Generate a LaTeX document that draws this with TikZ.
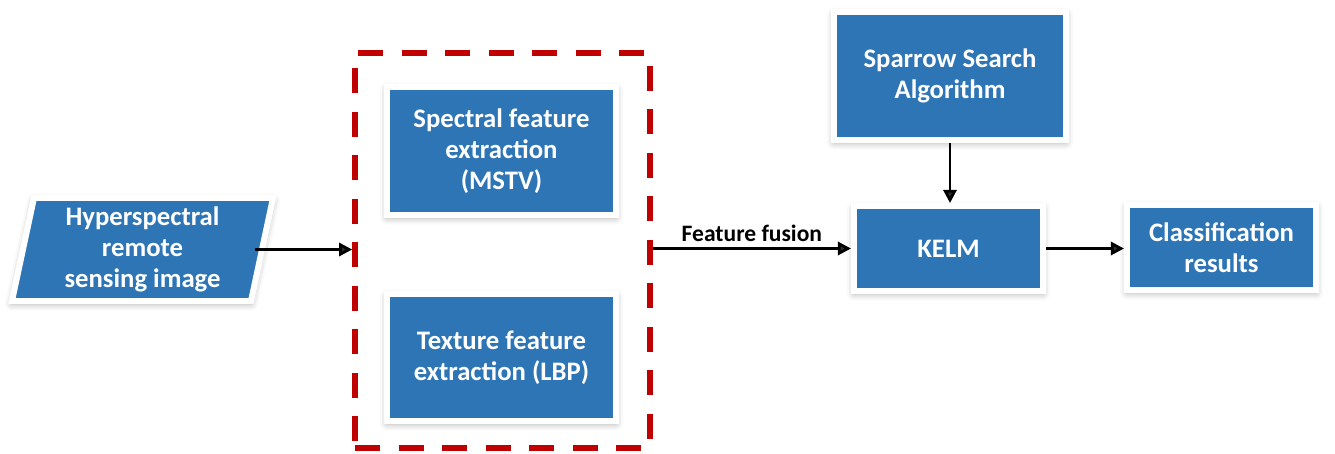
\documentclass[tikz,border=0pt]{standalone}
\usepackage{fontspec}
\setmainfont{Carlito}
\definecolor{flow_blue}{RGB}{46, 117, 182}
\definecolor{flow_red}{RGB}{192, 0, 0}
\usetikzlibrary{arrows.meta, positioning, shadows.blur, calc}

\begin{document}
\begin{tikzpicture}[font=\bfseries\fontsize{15.2}{17.8}\selectfont,
            >={Triangle[length=7.5pt, width=7.5pt]},
            box/.style={fill=flow_blue, draw=white, line width=3.4pt,
                        text=white, align=center,
                        blur shadow={shadow xshift=0pt, shadow yshift=-1.5pt,
                                     shadow blur radius=4pt, shadow opacity=35}},
            link/.style={->, line width=1.6pt}]
            \useasboundingbox (0,0) rectangle (26.7,9.06);
            % input data (parallelogram)
            \filldraw[fill=flow_blue, draw=white, line width=3.4pt,
                      blur shadow={shadow xshift=0pt, shadow yshift=-1.5pt,
                                   shadow blur radius=4pt, shadow opacity=35}]
              (0.68,5.10) -- (5.46,5.10) -- (5.02,3.04) -- (0.24,3.04) -- cycle;
            \node[text=white, align=center, minimum width=4.5cm,
                  minimum height=1.9cm] (inp) at (2.85,4.07)
              {Hyperspectral\\ remote\\ sensing image};
            % feature extraction group
            \node[draw=flow_red, line width=3.2pt,
                  dash pattern=on 0.5cm off 0.37cm,
                  minimum width=5.9cm, minimum height=7.9cm] (grp) at (10.05,4.05) {};
            \node[box, minimum width=4.58cm, minimum height=2.56cm] (spec) at (10.03,6.04)
              {Spectral feature\\ extraction\\ (MSTV)};
            \node[box, minimum width=4.58cm, minimum height=2.54cm] (tex) at (10.03,1.91)
              {Texture feature\\ extraction (LBP)};
            % classifier
            \node[box, minimum width=4.64cm, minimum height=2.56cm] (ssa) at (19.0,7.54)
              {Sparrow Search\\ Algorithm};
            \node[box, minimum width=3.78cm, minimum height=1.70cm] (kelm) at (18.97,4.09)
              {KELM};
            \node[box, minimum width=3.78cm, minimum height=1.70cm] (res) at (24.43,4.11)
              {Classification\\ results};
            % arrows
            \draw[link] (inp.east) -- (inp.east -| grp.west);
            \draw[link] (grp.east |- kelm.west) -- (kelm.west)
              node[midway, above, font=\bfseries\fontsize{13.4}{16}\selectfont] {Feature fusion};
            \draw[link] (ssa.south) -- (ssa.south |- kelm.north);
            \draw[link] (kelm.east) -- (kelm.east -| res.west);
          \end{tikzpicture}
\end{document}
